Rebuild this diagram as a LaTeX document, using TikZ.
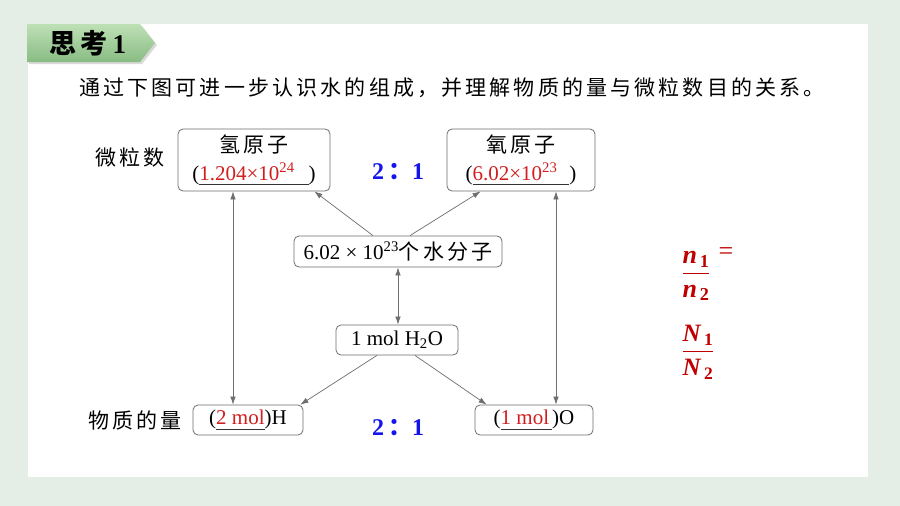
\documentclass[tikz,border=0pt]{standalone}
\usepackage{fontspec}
\usepackage{amsmath}
\setmainfont{Liberation Serif}
\newfontfamily\cjk[LetterSpace=15]{Noto Sans CJK SC}
\usetikzlibrary{arrows.meta}
\definecolor{bggreen}{RGB}{228,238,230}
\definecolor{tagtop}{RGB}{190,224,182}
\definecolor{tagbot}{RGB}{136,188,130}
\definecolor{boxgray}{RGB}{110,110,110}
\definecolor{ansred}{RGB}{210,30,30}
\definecolor{ratioblue}{RGB}{20,20,235}
\definecolor{fracred}{RGB}{192,0,0}
\newsavebox\fillbox
\newcommand\fillin[2][0pt]{\sbox\fillbox{\textcolor{ansred}{#2}\hspace{#1}}%
  \rlap{\textcolor{black!80}{\rule[-5pt]{\wd\fillbox}{0.9pt}}}\usebox\fillbox}
\begin{document}
\begin{tikzpicture}[x=1pt, y=-1pt, >={Latex[length=8pt,width=5.5pt]},
  font=\fontsize{21}{28}\selectfont,
  box/.style={draw=boxgray, line width=0.8pt, rounded corners=5pt, align=center, inner sep=2pt},
  link/.style={draw=boxgray, line width=0.7pt},
  lbl/.style={font=\fontsize{21}{24}\selectfont\cjk},
  ratio/.style={text=ratioblue, font=\fontsize{24}{26}\selectfont\bfseries}]
  \useasboundingbox (0,0) rectangle (900,506);
  % page
  \fill[bggreen] (0,0) rectangle (900,506);
  \fill[white] (28,24) rectangle (868,477);
  % tag
  \fill[black!15] (29,26) -- (142,26) -- (157,45) -- (142,64) -- (29,64) -- cycle;
  \shade[top color=tagtop, bottom color=tagbot] (27,24) -- (140,24) -- (155,43) -- (140,62) -- (27,62) -- cycle;
  \node[font=\fontsize{27}{27}\selectfont\bfseries] (tag) at (88,43) {{\cjk 思考}\,1};
  % question
  \node[lbl] (quest) at (452,88) {通过下图可进一步认识水的组成，并理解物质的量与微粒数目的关系。};
  % particle numbers
  \node[lbl] (numlbl) at (130,158) {微粒数};
  \node[box, minimum width=152, minimum height=62] (hyd) at (254,160)
      {{\cjk 氢原子}\\(\fillin[14pt]{1.204×10\textsuperscript{24}})};
  \node[box, minimum width=148, minimum height=62] (oxy) at (521,160)
      {{\cjk 氧原子}\\(\fillin[12pt]{6.02×10\textsuperscript{23}})};
  \node[ratio] (ratiotop) at (398,172) {2\,{\cjk ：}1};
  % molecules
  \node[box, minimum width=208, minimum height=31] (wat) at (398,251.5)
      {6.02 × 10\textsuperscript{23}{\cjk 个水分子}};
  \node[box, minimum width=122, minimum height=30] (hwo) at (397,340) {1 mol H\textsubscript{2}O};
  % amounts
  \node[lbl] (amtlbl) at (135,420) {物质的量};
  \node[box, minimum width=110, minimum height=30] (hmol) at (248,420) {(\fillin{2 mol})H};
  \node[box, minimum width=118, minimum height=30] (omol) at (534,420) {(\fillin[3pt]{1 mol})O};
  \node[ratio] (ratiobot) at (398,428) {2\,{\cjk ：}1};
  % ratio formula
  \node[text=fracred, font=\fontsize{26}{30}\selectfont] (nfrac) at (696,276)
      {$\dfrac{\textbf{\textit{n}}_{\,\textbf{1}}}{\textbf{\textit{n}}_{\,\textbf{2}}}$};
  \node[text=fracred, font=\fontsize{26}{30}\selectfont] (eq) at (726,254) {=};
  \node[text=fracred, font=\fontsize{25}{30}\selectfont] (Nfrac) at (698,352)
      {$\dfrac{\textbf{\textit{N}}_{\,\textbf{1}}}{\textbf{\textit{N}}_{\,\textbf{2}}}$};
  % connectors
  \draw[link, ->] ([xshift=-25pt]wat.north) -- ([xshift=-16pt]hyd.south east);
  \draw[link, ->] ([xshift=12pt]wat.north) -- ([xshift=34pt]oxy.south west);
  \draw[link, <->] (wat.south) -- (wat.south |- hwo.north);
  \draw[link, ->] ([xshift=-20pt]hwo.south) -- ([xshift=-3pt]hmol.north east);
  \draw[link, ->] ([xshift=18pt]hwo.south) -- ([xshift=12pt]omol.north west);
  \draw[link, <->] ([xshift=-21pt]hyd.south) -- ([xshift=-21pt]hyd.south |- hmol.north);
  \draw[link, <->] ([xshift=35pt]oxy.south) -- ([xshift=35pt]oxy.south |- omol.north);
\end{tikzpicture}
\end{document}
